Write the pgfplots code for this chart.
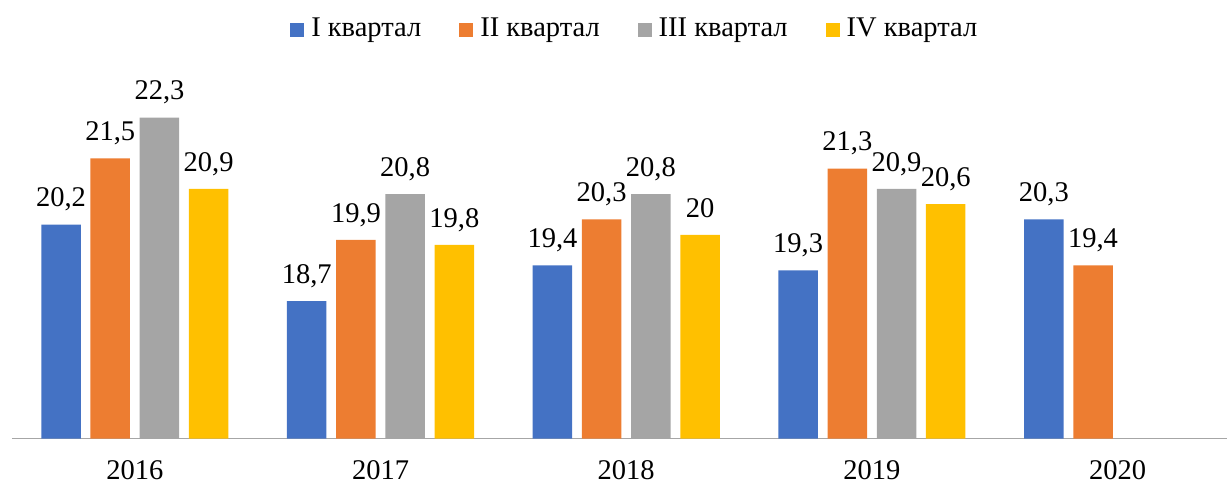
\documentclass[border=0pt]{standalone}
\usepackage{pgfplots}
\pgfplotsset{compat=1.18}
\usepackage{fontspec}
\setmainfont{Liberation Serif}
\definecolor{cA}{HTML}{4472C4}
\definecolor{cB}{HTML}{ED7D31}
\definecolor{cC}{HTML}{A5A5A5}
\definecolor{cD}{HTML}{FFC000}
\newcommand\cf{\fontsize{28.5}{32}\selectfont}
\begin{document}
\begin{tikzpicture}
\useasboundingbox (-12pt,-45.4pt) rectangle (1215pt,438.6pt);
\begin{axis}[
  name=ax, at={(0,0)}, anchor=south west,
  scale only axis, width=1215pt, height=356.7pt,
  xmin=-0.5, xmax=4.445, ymin=16, ymax=23,
  ybar=9.7pt, bar width=39.5pt,
  axis x line*=bottom, axis y line=none,
  x axis line style={draw=black!35, line width=1.3pt},
  xtick={0,1,2,3,4}, xticklabels={2016,2017,2018,2019,2020},
  major tick length=0pt,
  xticklabel style={font=\cf, inner sep=0pt, yshift=-22pt},
  /pgf/number format/.cd, use comma, assume math mode=true, /pgfplots/.cd,
  nodes near coords,
  every node near coord/.append style={font=\cf, text=black, inner sep=0pt, text depth=0pt, yshift=17.5pt},
  clip=false,
  legend columns=4,
  legend style={draw=none, font=\cf, at={(0.513,1.151)}, anchor=center,
    column sep=0pt, /tikz/every even column/.append style={column sep=35pt},
    nodes={inner sep=3pt}},
  legend image code/.code={\fill[#1] (0pt,-9pt) rectangle (14pt,5pt); \path (18pt,0pt);},
]
\addplot[fill=cA, draw=none] coordinates {(0,20.2) (1,18.7) (2,19.4) (3,19.3) (4,20.3)};
\addplot[fill=cB, draw=none] coordinates {(0,21.5) (1,19.9) (2,20.3) (3,21.3) (4,19.4)};
\addplot[fill=cC, draw=none] coordinates {(0,22.3) (1,20.8) (2,20.8) (3,20.9)};
\addplot[fill=cD, draw=none] coordinates {(0,20.9) (1,19.8) (2,20) (3,20.6)};
\legend{I квартал, II квартал, III квартал, IV квартал}
\end{axis}
\end{tikzpicture}
\end{document}
